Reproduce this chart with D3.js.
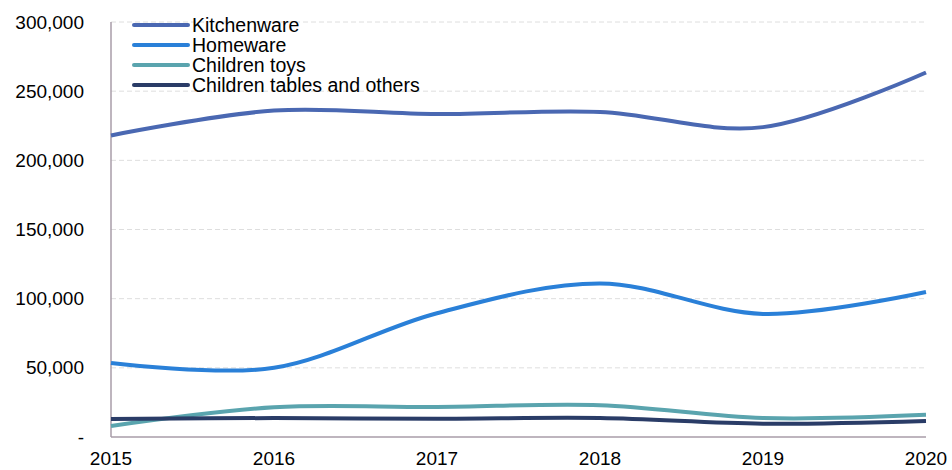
<!DOCTYPE html>
<html>
<head>
<meta charset="utf-8">
<script src="https://cdn.jsdelivr.net/npm/d3@7"></script>
<style>
	body { margin: 0; background: #fff; }
	text { font-family: Arial, "Liberation Sans", sans-serif; fill: #000; }
</style>
</head>
<body>
<div id="chart"></div>
<script>
//Chart data
const years = [2015, 2016, 2017, 2018, 2019, 2020];
const seriesNames = ['Kitchenware', 'Homeware', 'Children toys', 'Children tables and others'];
const kitchenware = [218000, 236000, 233500, 235000, 224000, 263500];
const homeware = [53500, 50000, 89500, 111000, 89000, 104800];
const childrenToys = [8000, 21500, 21700, 23000, 13700, 16000];
const childrenTables = [13000, 13700, 13200, 13700, 9600, 11600];
const yTicks = [0, 50000, 100000, 150000, 200000, 250000, 300000];
const colors = ['#4a68b2', '#2a80d8', '#5aa4ae', '#2a3c67'];

const seriesValues = [kitchenware, homeware, childrenToys, childrenTables];

const w = 952, h = 470;
const margin = {top: 22, right: 26, bottom: 33, left: 111};

const plot = d3.select('#chart').append('svg')
	.attr('width', w)
	.attr('height', h);

//Scales
const x = d3.scaleLinear()
	.domain(d3.extent(years))
	.range([margin.left, w - margin.right]);

const y = d3.scaleLinear()
	.domain([0, 300000])
	.range([h - margin.bottom, margin.top]);

//Gridlines
plot.append('g')
	.selectAll('line')
	.data(yTicks.slice(1))
	.enter()
	.append('line')
	.attr('x1', x(2015))
	.attr('x2', x(2020))
	.attr('y1', d => y(d))
	.attr('y2', d => y(d))
	.style('stroke', '#dedede')
	.style('stroke-width', '1px')
	.style('stroke-dasharray', '5,3');

//Y axis labels
plot.append('g')
	.selectAll('text')
	.data(yTicks)
	.enter()
	.append('text')
	.attr('x', 84)
	.attr('y', d => y(d))
	.attr('dy', '0.35em')
	.attr('text-anchor', 'end')
	.style('font-size', '19px')
	.text(d => d === 0 ? '-' : d3.format(',')(d));

//X axis labels
plot.append('g')
	.selectAll('text')
	.data(years)
	.enter()
	.append('text')
	.attr('x', d => x(d))
	.attr('y', 465)
	.attr('text-anchor', 'middle')
	.style('font-size', '19px')
	.text(d => d);

//Axis lines
plot.append('line')
	.attr('x1', x(2015)).attr('x2', x(2015))
	.attr('y1', y(300000)).attr('y2', y(0))
	.style('stroke', '#a89ca9')
	.style('stroke-width', '1.5px');

plot.append('line')
	.attr('x1', x(2015)).attr('x2', x(2020))
	.attr('y1', y(0)).attr('y2', y(0))
	.style('stroke', '#a89ca9')
	.style('stroke-width', '1.5px');

//Smoothed lines
const line = d3.line()
	.x((d, i) => x(years[i]))
	.y(d => y(d))
	.curve(d3.curveCatmullRom.alpha(0));

plot.selectAll('.series')
	.data(seriesValues)
	.enter()
	.append('path')
	.attr('class', 'series')
	.attr('d', line)
	.style('fill', 'none')
	.style('stroke', (d, i) => colors[i])
	.style('stroke-width', '4px');

//Legend
const legend = plot.append('g')
	.selectAll('g')
	.data(seriesNames)
	.enter()
	.append('g')
	.attr('transform', (d, i) => `translate(134, ${25 + i * 20})`);

legend.append('line')
	.attr('x1', 0).attr('x2', 54)
	.style('stroke', (d, i) => colors[i])
	.style('stroke-width', '4px')
	.style('stroke-linecap', 'round');

legend.append('text')
	.attr('x', 58)
	.attr('dy', '0.35em')
	.style('font-size', '19.5px')
	.text(d => d);
</script>
</body>
</html>
